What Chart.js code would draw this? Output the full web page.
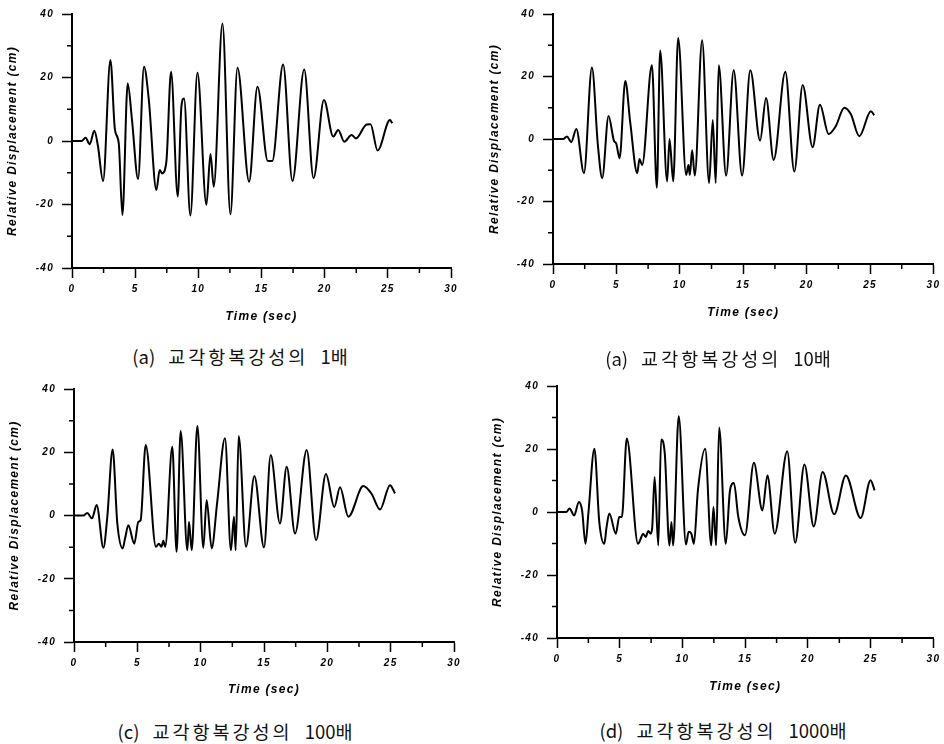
<!DOCTYPE html>
<html>
<head>
<meta charset="utf-8">
<script src="https://cdn.jsdelivr.net/npm/chart.js@4/dist/chart.umd.min.js"></script>
<style>
  html, body { margin: 0; padding: 0; background: #fff; }
  body { width: 944px; height: 744px; position: relative; overflow: hidden; }
  canvas { position: absolute; }
  .cap { position: absolute; font-family: "Noto Sans CJK KR", sans-serif; font-size: 18.5px;
         color: #111; white-space: nowrap; transform: translate(-50%, -50%); line-height: 1; }
  .cap .han { letter-spacing: 3px; margin-left: 13px; }
  .cap .num { margin-left: 12px; }
</style>
</head>
<body>
<canvas id="c1"></canvas>
<canvas id="c2"></canvas>
<canvas id="c3"></canvas>
<canvas id="c4"></canvas>
<div class="cap" id="s1"></div>
<div class="cap" id="s2"></div>
<div class="cap" id="s3"></div>
<div class="cap" id="s4"></div>
<script>
// ---------------- data ----------------
const xTitle = 'Time (sec)';
const yTitle = 'Relative Displacement (cm)';
const capLetters = ['(a)', '(a)', '(c)', '(d)'];
const capWord = '교각항복강성의';
const capTimes = ['1배', '10배', '100배', '1000배'];
const xMinor = [2.5, 7.5, 12.5, 17.5, 22.5, 27.5];
const yMinor = [30, 10, -10, -30];

const t1 = [0,0.75,1.08,1.4,1.77,2.05,2.46,3.04,3.4,3.7,3.99,4.41,4.75,5.23,5.7,6.07,6.68,6.94,7.13,7.47,7.84,8.37,8.66,8.87,9.37,9.93,10.64,10.96,11.22,11.91,12.54,13.1,14.02,14.68,15.5,15.85,16.71,17.45,18.38,19.12,19.94,20.68,21.07,21.55,22.13,22.47,23.32,23.63,24.19,25.17,25.35];
const d1 = [0,0,1.0,-1.0,3.2,-1.5,-12.6,25.5,3.5,-0.7,-23.3,18.1,6.6,-12.0,23.4,13.4,-15.4,-9.1,-10.2,-6.5,21.8,-17.5,10.8,13.4,-23.5,21.5,-20.1,-4.1,-14.4,37.0,-23.1,23.1,-12.8,17.1,-6.3,-6.3,24.1,-12.6,22.5,-11.7,12.9,1.4,3.5,-0.2,1.9,0.8,5.2,5.3,-3.0,6.6,5.6];

const t2 = [0,0.8,1.1,1.44,1.84,2.44,3.07,3.54,3.88,4.38,4.8,4.99,5.25,5.7,6.09,6.64,6.82,7.03,7.8,8.19,8.45,9.0,9.19,9.48,9.87,10.5,10.68,10.79,10.97,11.18,11.76,12.31,12.6,12.83,13.07,13.65,14.25,14.91,15.56,16.33,16.8,17.4,18.32,19.03,19.69,20.47,21.05,21.73,22.31,22.97,23.49,24.15,25.07,25.33];
const d2 = [0,0,0.8,-1.0,3.2,-10.9,22.9,-2.0,-12.5,7.4,-0.5,-1.5,-6.2,18.6,5.3,-10.9,-6.4,-8.3,23.6,-15.6,28.3,-13.6,0.0,-13.6,32.3,-11.5,-8.3,-11.5,-3.6,-11.7,31.6,-14.1,6.1,-14.1,23.6,-11.7,22.0,-11.7,22.0,-0.5,13.1,-6.7,21.5,-10.4,17.3,-2.6,11.0,1.6,4.2,10.0,7.9,0.9,8.9,7.6];

const t3 = [0,0.74,1.05,1.42,1.79,2.32,2.63,3.05,3.42,3.84,4.03,4.29,4.76,5.08,5.26,5.66,6.47,6.7,6.9,7.05,7.2,7.76,8.1,8.42,8.95,9.08,9.29,9.74,10.21,10.47,10.87,11.3,11.92,12.39,12.63,12.76,13.0,13.58,14.24,15.0,15.53,16.26,16.79,17.45,18.37,19.11,19.89,20.55,21.0,21.66,22.84,23.5,24.16,24.95,25.34];
const d3 = [0,0,0.8,-0.9,3.3,-10.2,-0.4,20.9,-2.5,-10.4,-7.3,-3.1,-8.9,-2.0,-1.5,22.3,-9.9,-8.9,-9.9,-8.0,-9.9,21.7,-11.5,26.7,-11.0,-2.0,-11.0,28.3,-10.2,4.9,-10.4,4.0,24.4,-11.0,-0.4,-11.0,25.1,-9.9,12.5,-10.1,19.1,-2.5,15.4,-5.7,20.7,-7.8,13.1,2.7,8.9,-0.4,9.3,6.8,1.9,9.6,7.0];

const t4 = [0,0.74,1.0,1.37,1.74,2.0,2.27,2.5,2.98,3.37,3.77,3.95,4.17,4.69,4.96,5.17,5.56,6.46,6.67,6.85,7.07,7.28,7.46,7.59,7.78,8.07,8.3,8.59,8.96,9.12,9.25,9.7,10.28,10.49,10.7,10.91,11.23,11.81,12.29,12.47,12.68,12.92,13.45,13.79,14.1,14.45,14.98,15.69,16.37,16.77,17.35,18.35,18.98,19.72,20.46,21.17,22.09,23.02,24.2,24.99,25.31];
const d4 = [0,0,1.1,-1.1,3.2,0.5,-10.1,-0.5,20.1,-3.2,-10.1,-4.8,-0.5,-6.9,-1.6,-1.6,23.3,-10.1,-8.5,-6.9,-7.9,-6.0,-6.9,-4.8,11.1,-10.6,23.0,18.5,-10.6,-3.2,-10.6,30.4,-10.3,-6.3,-6.8,-10.1,6.9,20.1,-10.6,1.6,-10.6,26.8,-10.1,6.9,9.2,-1.6,-7.4,15.6,0.5,11.6,-6.9,19.3,-9.8,15.1,-4.6,12.7,-0.7,11.6,-1.9,10.1,6.9];

const series = [[t1, d1], [t2, d2], [t3, d3], [t4, d4]];

// ---------------- layout (pixels) ----------------
const panels = [
  { cx: 0,   cy: 0,   w: 470, h: 335, L: 72,  R: 451, T: 14,  B: 268, xt: 317, yt: 13,  capX: 240, capY: 356 },
  { cx: 470, cy: 0,   w: 474, h: 335, L: 553, R: 934, T: 9,   B: 264, xt: 313, yt: 495, capX: 718, capY: 358 },
  { cx: 0,   cy: 370, w: 470, h: 335, L: 74,  R: 454, T: 389, B: 642, xt: 690, yt: 15,  capX: 235, capY: 731 },
  { cx: 470, cy: 370, w: 474, h: 335, L: 557, R: 937, T: 386, B: 638, xt: 687, yt: 498, capX: 723, capY: 730 }
];

const spacing = {
  id: 'spacing',
  beforeDraw(chart) { chart.ctx.letterSpacing = '1.3px'; }
};
const minorTicks = {
  id: 'minorTicks',
  afterDraw(chart) {
    const { ctx, chartArea, scales: { x, y } } = chart;
    ctx.save();
    ctx.strokeStyle = '#000';
    ctx.lineWidth = 1.5;
    ctx.beginPath();
    xMinor.forEach(v => { const px = x.getPixelForValue(v); ctx.moveTo(px, chartArea.bottom); ctx.lineTo(px, chartArea.bottom + 5); });
    yMinor.forEach(v => { const py = y.getPixelForValue(v); ctx.moveTo(chartArea.left - 5, py); ctx.lineTo(chartArea.left, py); });
    ctx.stroke();
    ctx.restore();
  }
};

const tickFont = { family: 'Liberation Sans', size: 10, style: 'italic', weight: 'bold' };
const titleFont = { family: 'Liberation Sans', size: 12, style: 'italic', weight: 'bold', lineHeight: 1.2 };

panels.forEach((p, i) => {
  const cv = document.getElementById('c' + (i + 1));
  cv.width = p.w; cv.height = p.h;
  cv.style.left = p.cx + 'px'; cv.style.top = p.cy + 'px';

  const cap = document.getElementById('s' + (i + 1));
  const a = document.createElement('span'); a.textContent = capLetters[i];
  const b = document.createElement('span'); b.className = 'han'; b.textContent = capWord;
  const c = document.createElement('span'); c.className = 'num'; c.textContent = capTimes[i];
  cap.append(a, b, c);
  cap.style.left = p.capX + 'px'; cap.style.top = p.capY + 'px';

  const yW = p.L - p.cx;
  const xH = p.cy + p.h - p.B;
  const lh = titleFont.size * titleFont.lineHeight;
  const xPadB = (p.cy + p.h) - p.xt - lh / 2;
  const yPadT = p.yt - p.cx - lh / 2;
  const [tt, dd] = series[i];

  new Chart(cv, {
    type: 'line',
    data: {
      datasets: [{
        data: tt.map((t, k) => ({ x: t, y: dd[k] })),
        borderColor: '#000',
        borderWidth: 2,
        pointRadius: 0,
        cubicInterpolationMode: 'monotone',
        fill: false
      }]
    },
    options: {
      responsive: false,
      animation: false,
      devicePixelRatio: 1,
      layout: { autoPadding: false, padding: { left: 0, right: p.cx + p.w - p.R, top: p.T - p.cy, bottom: 0 } },
      plugins: { legend: { display: false }, tooltip: { enabled: false } },
      scales: {
        x: {
          type: 'linear', min: 0, max: 30,
          ticks: { stepSize: 5, color: '#000', font: tickFont, padding: 5, maxRotation: 0 },
          grid: { drawOnChartArea: false, drawTicks: true, tickLength: 10, tickWidth: 1.5, tickColor: '#000' },
          border: { display: true, color: '#000', width: 2 },
          title: { display: true, text: xTitle, color: '#000', font: titleFont, padding: { top: 0, bottom: xPadB } },
          afterFit(s) { s.height = xH; }
        },
        y: {
          type: 'linear', min: -40, max: 40,
          ticks: { stepSize: 20, color: '#000', font: tickFont, padding: 8 },
          grid: { drawOnChartArea: false, drawTicks: true, tickLength: 10, tickWidth: 1.5, tickColor: '#000' },
          border: { display: true, color: '#000', width: 2 },
          title: { display: true, text: yTitle, color: '#000', font: titleFont, padding: { top: yPadT, bottom: 0 } },
          afterFit(s) { s.width = yW; }
        }
      }
    },
    plugins: [spacing, minorTicks]
  });
});
</script>
</body>
</html>
